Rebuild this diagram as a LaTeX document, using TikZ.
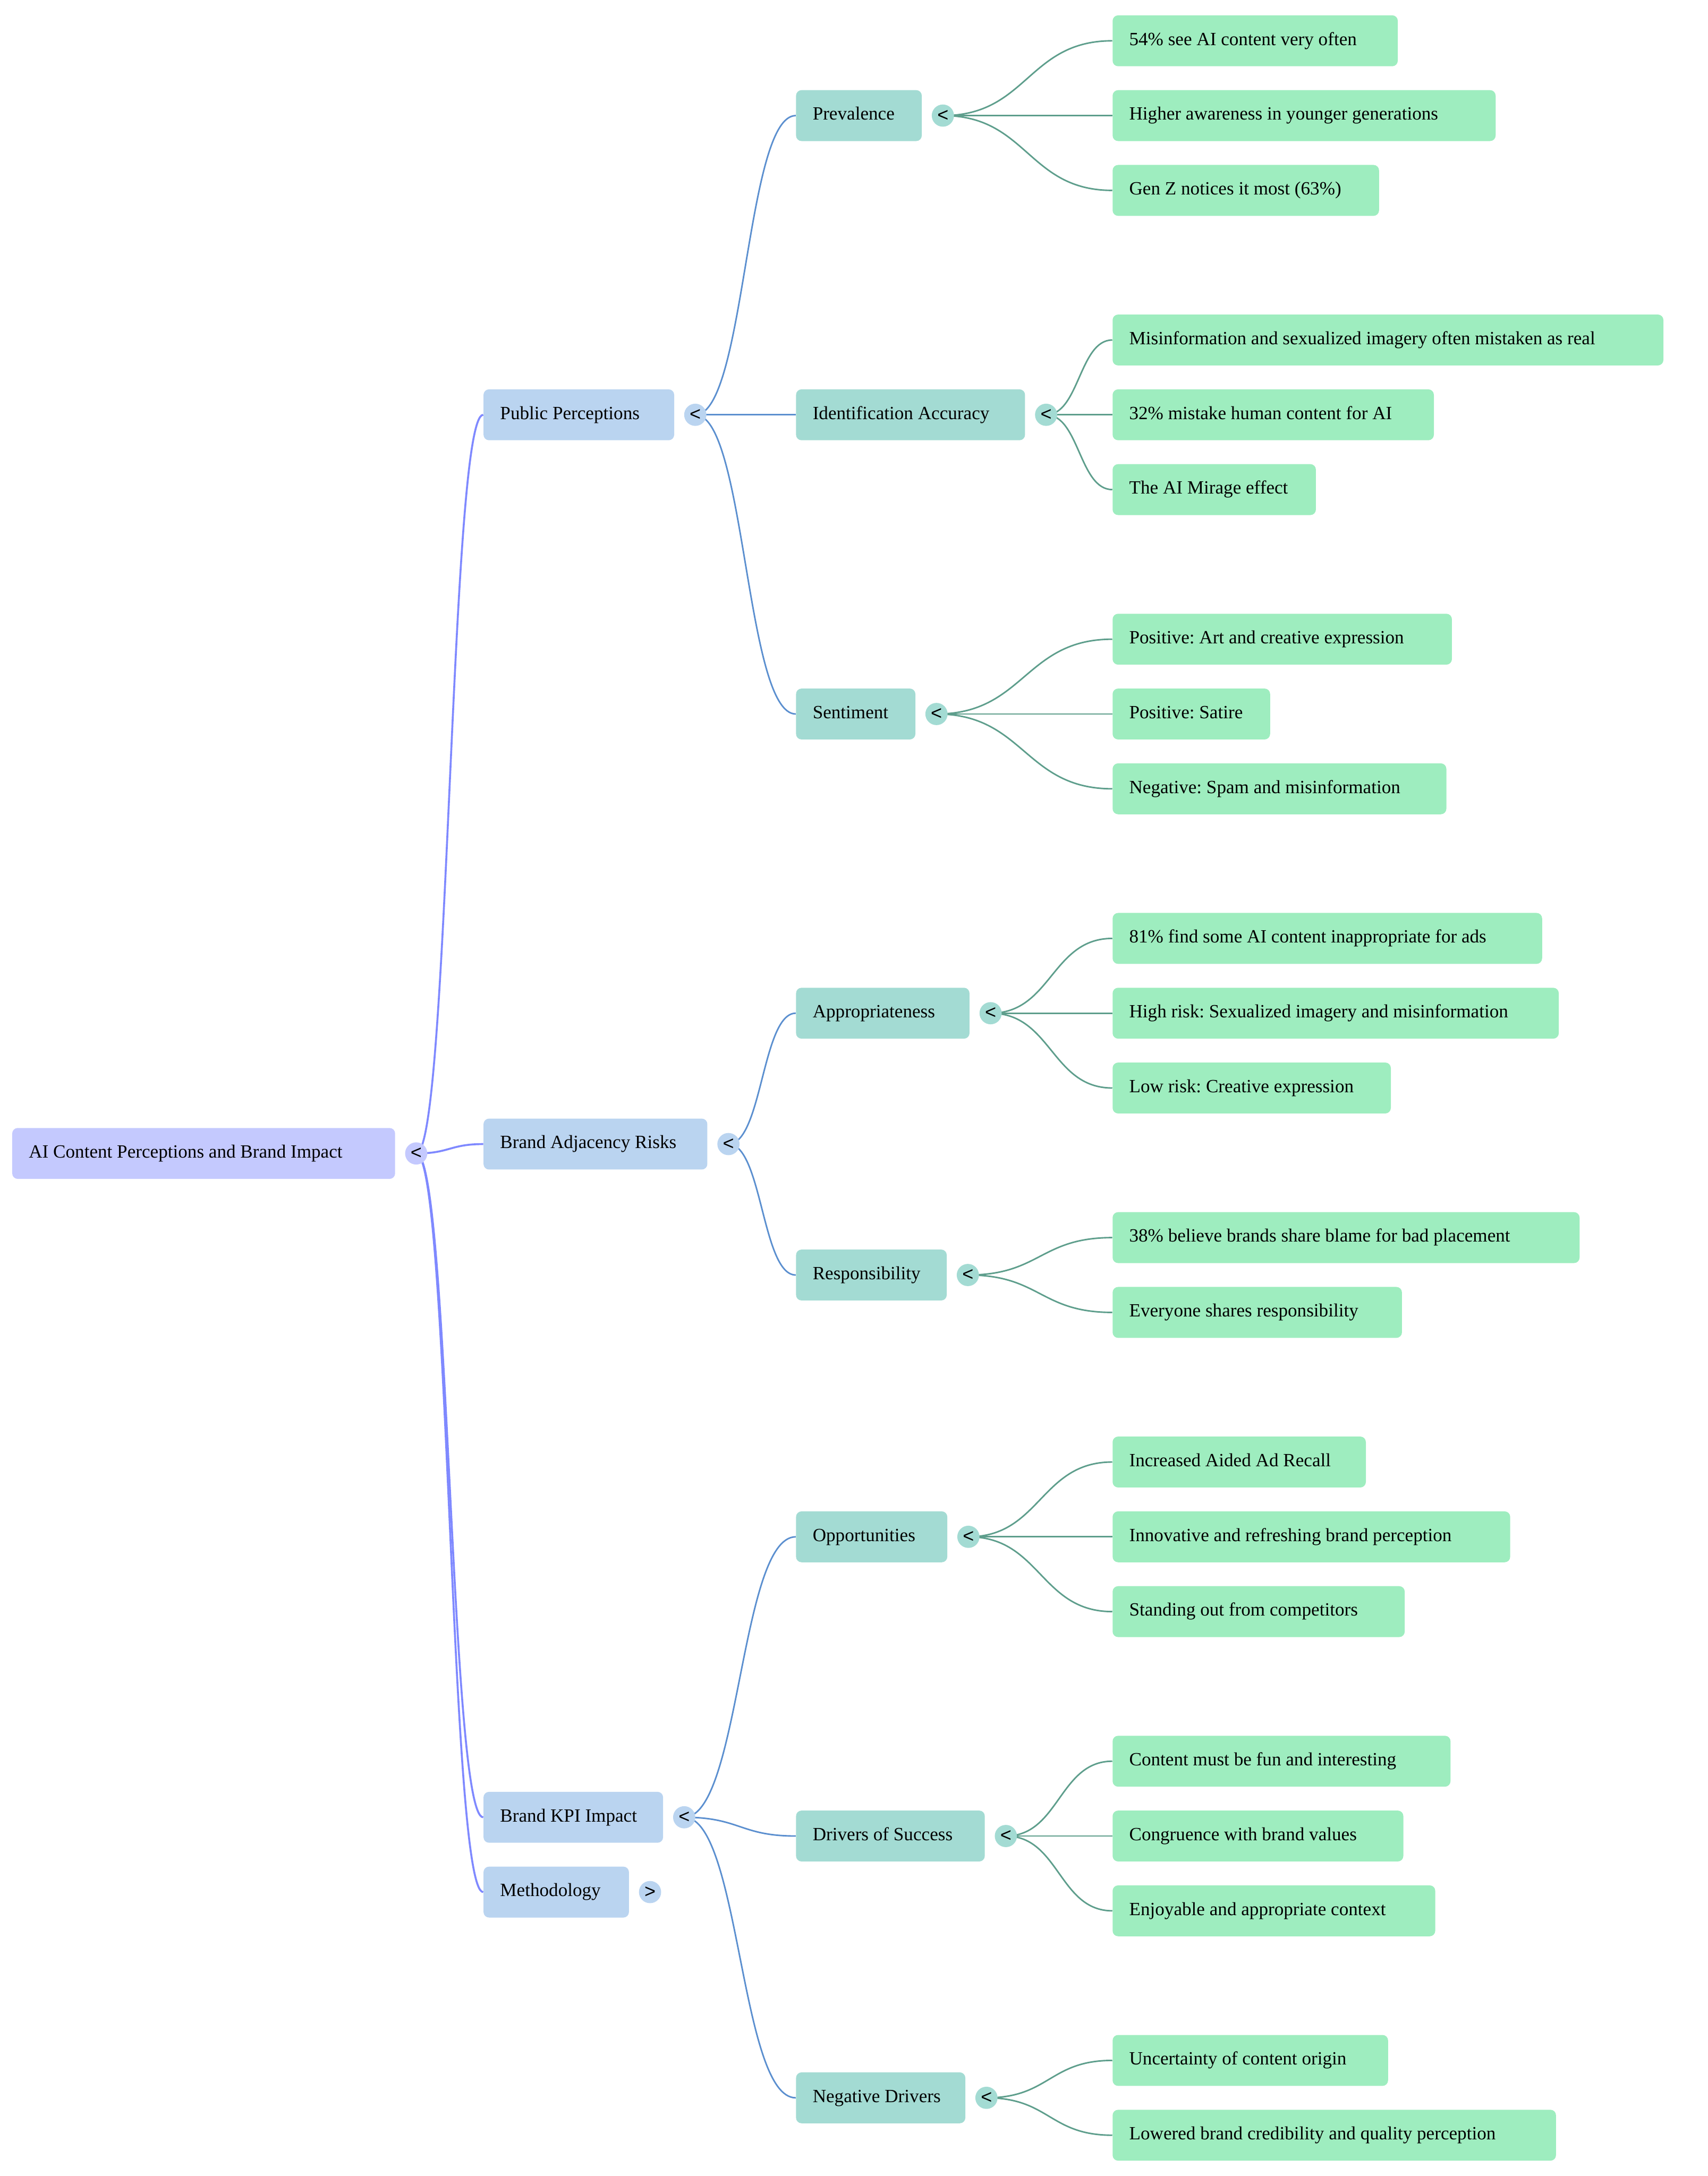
\documentclass[tikz,border=0pt]{standalone}
\usepackage{fontspec}
\setmainfont{Liberation Serif}
\newfontfamily\knobfont{Liberation Sans}
\usetikzlibrary{calc}
\pgfdeclarelayer{background}
\pgfsetlayers{background,main}
\frenchspacing
\definecolor{c0}{HTML}{C4C9FE}
\definecolor{c1}{HTML}{BAD4F0}
\definecolor{c2}{HTML}{A3DBD3}
\definecolor{c3}{HTML}{9EEDBF}
\definecolor{e0}{HTML}{7F89FF}
\definecolor{e1}{HTML}{5B8FCF}
\definecolor{e2}{HTML}{5E9E8C}
\newcommand\fs{\fontsize{13.45pt}{16pt}\selectfont}
\tikzset{
  box/.style={rectangle, rounded corners=4pt, draw=none, minimum height=36.7pt,
    inner xsep=12pt, inner ysep=0pt, text height=9.1pt, text depth=2.8pt,
    anchor=west, font=\fs},
  lv0/.style={box, fill=c0},
  lv1/.style={box, fill=c1},
  lv2/.style={box, fill=c2},
  lv3/.style={box, fill=c3},
  knob/.style={circle, minimum size=16pt, inner sep=0pt, font=\knobfont\fontsize{13.8pt}{16pt}\selectfont},
  ln0/.style={draw=e0, line width=1.4pt},
  ln1/.style={draw=e1, line width=1.1pt},
  ln2/.style={draw=e2, line width=1.1pt},
}
% name, x, y, width, style, text
\newcommand\mnode[6]{\node[#5] (#1) at (#2,#3) {\makebox[\dimexpr#4pt-24pt\relax][l]{#6}};}
% knob: parent name, fill colour, symbol
\newcommand\mknob[3]{\node[knob, fill=#2] (#1-k) at ($(#1.east)+(15,0)$) {#3};}
% link: from knob of parent to child west
\newcommand\mlink[3]{\begin{pgfonlayer}{background}\draw[#3] let \p1=(#1-k.center), \p2=(#2.west) in (\p1) .. controls ({0.5*\x1+0.5*\x2},\y1) and ({0.5*\x1+0.5*\x2},\y2) .. (\p2);\end{pgfonlayer}}
\begin{document}
\begin{tikzpicture}[x=1pt,y=-1pt]
\useasboundingbox (0,0) rectangle (1230.4,1568);
% root
\mnode{root}{8.6}{831.15}{275.9}{lv0}{AI Content Perceptions and Brand Impact}
\mknob{root}{c0}{<}
% level 1
\mnode{pp}{348.2}{298.9}{137.4}{lv1}{Public Perceptions}
\mnode{bar}{348.2}{824.4}{161.3}{lv1}{Brand Adjacency Risks}
\mnode{kpi}{348.2}{1309.5}{129.4}{lv1}{Brand KPI Impact}
\mnode{meth}{348.2}{1363.4}{104.8}{lv1}{Methodology}
\mknob{pp}{c1}{<}
\mknob{bar}{c1}{<}
\mknob{kpi}{c1}{<}
\mknob{meth}{c1}{>}
% level 2
\mnode{prev}{573.4}{83.3}{90.6}{lv2}{Prevalence}
\mnode{ident}{573.4}{298.9}{165}{lv2}{Identification Accuracy}
\mnode{sent}{573.4}{514.5}{86}{lv2}{Sentiment}
\mnode{appr}{573.4}{730.1}{125}{lv2}{Appropriateness}
\mnode{resp}{573.4}{918.75}{108.6}{lv2}{Responsibility}
\mnode{opp}{573.4}{1107.4}{109}{lv2}{Opportunities}
\mnode{drv}{573.4}{1323.0}{136}{lv2}{Drivers of Success}
\mnode{neg}{573.4}{1511.65}{122}{lv2}{Negative Drivers}
\mknob{prev}{c2}{<}
\mknob{ident}{c2}{<}
\mknob{sent}{c2}{<}
\mknob{appr}{c2}{<}
\mknob{resp}{c2}{<}
\mknob{opp}{c2}{<}
\mknob{drv}{c2}{<}
\mknob{neg}{c2}{<}
% level 3
\mnode{a1}{801.5}{29.4}{205.5}{lv3}{54\% see AI content very often}
\mnode{a2}{801.5}{83.3}{276}{lv3}{Higher awareness in younger generations}
\mnode{a3}{801.5}{137.2}{192}{lv3}{Gen Z notices it most (63\%)}
\mnode{b1}{801.5}{245.0}{396.9}{lv3}{Misinformation and sexualized imagery often mistaken as real}
\mnode{b2}{801.5}{298.9}{231.5}{lv3}{32\% mistake human content for AI}
\mnode{b3}{801.5}{352.8}{146.5}{lv3}{The AI Mirage effect}
\mnode{s1}{801.5}{460.6}{244.5}{lv3}{Positive: Art and creative expression}
\mnode{s2}{801.5}{514.5}{113.5}{lv3}{Positive: Satire}
\mnode{s3}{801.5}{568.4}{240.5}{lv3}{Negative: Spam and misinformation}
\mnode{p1}{801.5}{676.2}{309.5}{lv3}{81\% find some AI content inappropriate for ads}
\mnode{p2}{801.5}{730.1}{321.5}{lv3}{High risk: Sexualized imagery and misinformation}
\mnode{p3}{801.5}{784.0}{200.5}{lv3}{Low risk: Creative expression}
\mnode{r1}{801.5}{891.8}{336.5}{lv3}{38\% believe brands share blame for bad placement}
\mnode{r2}{801.5}{945.7}{208.5}{lv3}{Everyone shares responsibility}
\mnode{o1}{801.5}{1053.5}{182.5}{lv3}{Increased Aided Ad Recall}
\mnode{o2}{801.5}{1107.4}{286.5}{lv3}{Innovative and refreshing brand perception}
\mnode{o3}{801.5}{1161.3}{210.5}{lv3}{Standing out from competitors}
\mnode{d1}{801.5}{1269.1}{243.5}{lv3}{Content must be fun and interesting}
\mnode{d2}{801.5}{1323.0}{209.5}{lv3}{Congruence with brand values}
\mnode{d3}{801.5}{1376.9}{232.5}{lv3}{Enjoyable and appropriate context}
\mnode{n1}{801.5}{1484.7}{198.5}{lv3}{Uncertainty of content origin}
\mnode{n2}{801.5}{1538.6}{319.5}{lv3}{Lowered brand credibility and quality perception}
% links
\mlink{root}{pp}{ln0}
\mlink{root}{bar}{ln0}
\mlink{root}{kpi}{ln0}
\mlink{root}{meth}{ln0}
\mlink{pp}{prev}{ln1}
\mlink{pp}{ident}{ln1}
\mlink{pp}{sent}{ln1}
\mlink{bar}{appr}{ln1}
\mlink{bar}{resp}{ln1}
\mlink{kpi}{opp}{ln1}
\mlink{kpi}{drv}{ln1}
\mlink{kpi}{neg}{ln1}
\mlink{prev}{a1}{ln2}
\mlink{prev}{a2}{ln2}
\mlink{prev}{a3}{ln2}
\mlink{ident}{b1}{ln2}
\mlink{ident}{b2}{ln2}
\mlink{ident}{b3}{ln2}
\mlink{sent}{s1}{ln2}
\mlink{sent}{s2}{ln2}
\mlink{sent}{s3}{ln2}
\mlink{appr}{p1}{ln2}
\mlink{appr}{p2}{ln2}
\mlink{appr}{p3}{ln2}
\mlink{resp}{r1}{ln2}
\mlink{resp}{r2}{ln2}
\mlink{opp}{o1}{ln2}
\mlink{opp}{o2}{ln2}
\mlink{opp}{o3}{ln2}
\mlink{drv}{d1}{ln2}
\mlink{drv}{d2}{ln2}
\mlink{drv}{d3}{ln2}
\mlink{neg}{n1}{ln2}
\mlink{neg}{n2}{ln2}
\end{tikzpicture}
\end{document}
